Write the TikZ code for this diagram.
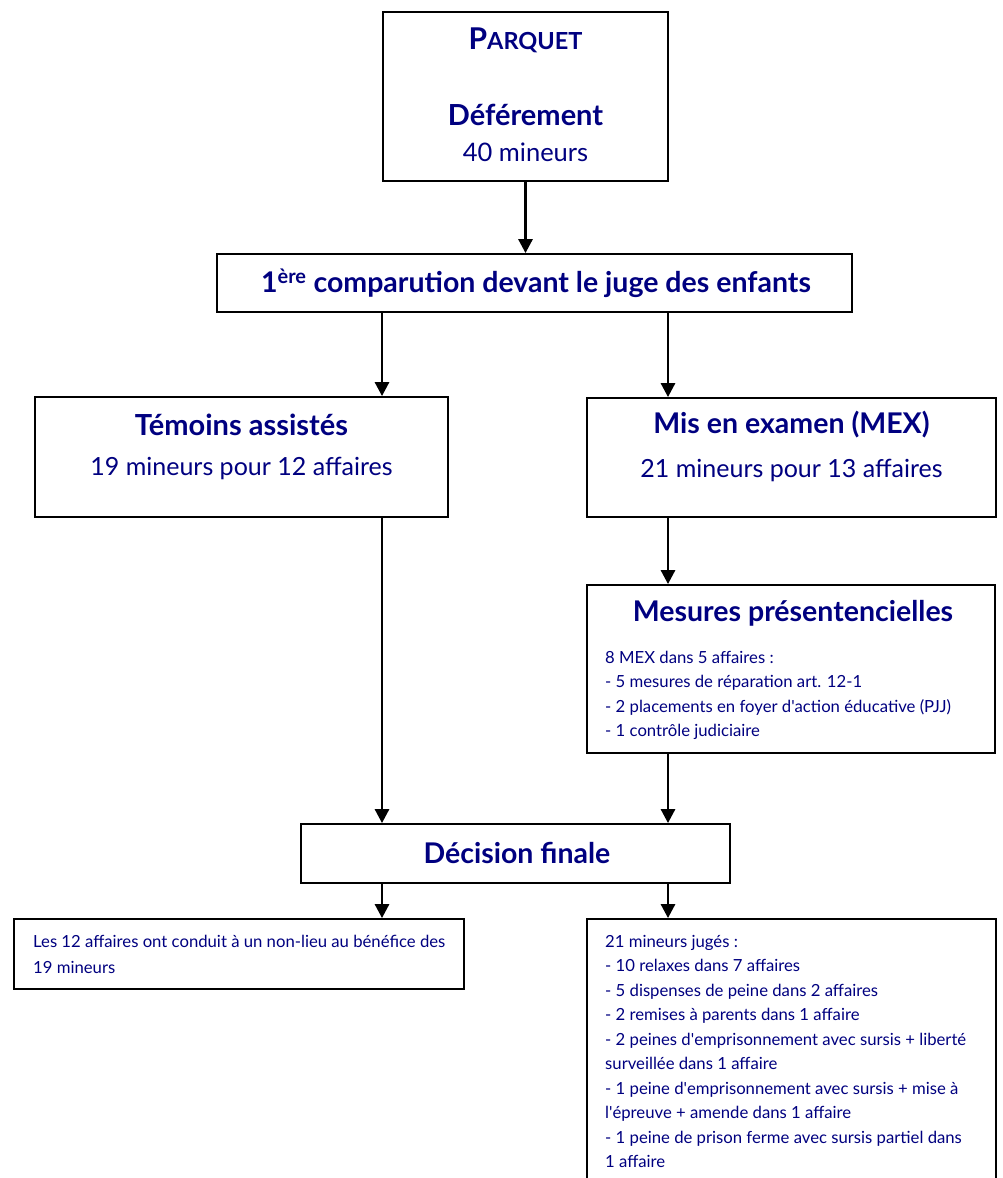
\documentclass[tikz,border=0pt]{standalone}
\usepackage{fontspec}
\setmainfont{Lato}
\usetikzlibrary{arrows.meta}
\definecolor{navy}{RGB}{0,0,128}
\tikzset{
  box/.style={draw=black, line width=1.8pt, fill=white, inner sep=0pt},
  txt/.style={text=navy, inner sep=0pt},
  arr/.style={line width=2.8pt, -{Triangle[width=14pt,length=14pt]}},
}
\newcommand{\apos}{\textquotesingle}
\begin{document}
\begin{tikzpicture}[x=1pt,y=-1pt]
\useasboundingbox (0,0) rectangle (1003,1178);
% boxes
\node[box, minimum width=285pt, minimum height=169pt] (parquet) at (525.5,96.5) {};
\node[box, minimum width=635pt, minimum height=58pt] (comp) at (534.5,283) {};
\node[box, minimum width=413pt, minimum height=120pt] (temoins) at (241.5,457) {};
\node[box, minimum width=409pt, minimum height=119pt] (mex) at (791.5,457.5) {};
\node[box, minimum width=408pt, minimum height=168pt] (mesures) at (791,669) {};
\node[box, minimum width=429pt, minimum height=59pt] (decision) at (515.5,853.5) {};
\node[box, minimum width=450pt, minimum height=70pt] (nonlieu) at (239,954) {};
\node[box, minimum width=409pt, minimum height=290pt] (juges) at (791.5,1064) {};
% texts
\node[txt, font=\fontsize{30}{32}\selectfont\bfseries] (t1) at (525.5,40) {P\fontsize{23.5}{26}\selectfont ARQUET};
\node[txt, font=\fontsize{29}{32}\selectfont\bfseries] (t2) at (525.5,115) {Déférement};
\node[txt, font=\fontsize{25.5}{28}\selectfont] (t3) at (525.5,152) {40 mineurs};
\node[txt, font=\fontsize{28.5}{30}\selectfont\bfseries] (t4) at (536,283) {1\textsuperscript{ère} comparution devant le juge des enfants};
\node[txt, font=\fontsize{29}{30}\selectfont\bfseries] (t5) at (241.5,425) {Témoins assistés};
\node[txt, font=\fontsize{25}{28}\selectfont] (t6) at (241.5,468) {19 mineurs pour 12 affaires};
\node[txt, font=\fontsize{28.5}{30}\selectfont\bfseries] (t7) at (791.5,425) {Mis en examen (MEX)};
\node[txt, font=\fontsize{25}{28}\selectfont] (t8) at (791.5,470) {21 mineurs pour 13 affaires};
\node[txt, font=\fontsize{28.5}{30}\selectfont\bfseries] (t9) at (793,613) {Mesures présentencielles};
\node[txt, font=\fontsize{16.7}{24.3}\selectfont, align=left, anchor=north west] (t10) at (605,651) {8 MEX dans 5 affaires :\\- 5 mesures de réparation art. 12-1\\- 2 placements en foyer d\apos action éducative (PJJ)\\- 1 contrôle judiciaire};
\node[txt, font=\fontsize{28.5}{30}\selectfont\bfseries] (t11) at (517,853) {Décision finale};
\node[txt, font=\fontsize{16.7}{26}\selectfont, align=left, anchor=north west] (t12) at (33,935) {Les 12 affaires ont conduit à un non-lieu au bénéfice des\\19 mineurs};
\node[txt, font=\fontsize{16.7}{24.5}\selectfont, align=left, anchor=north west] (t13) at (605,935) {21 mineurs jugés :\\- 10 relaxes dans 7 affaires\\- 5 dispenses de peine dans 2 affaires\\- 2 remises à parents dans 1 affaire\\- 2 peines d\apos emprisonnement avec sursis + liberté\\surveillée dans 1 affaire\\- 1 peine d\apos emprisonnement avec sursis + mise à\\l\apos épreuve + amende dans 1 affaire\\- 1 peine de prison ferme avec sursis partiel dans\\1 affaire};
% arrows
\draw[arr] (parquet.south) -- (parquet.south |- comp.north);
\draw[arr] (comp.south -| 382,0) -- (382,0 |- temoins.north);
\draw[arr] (comp.south -| 668,0) -- (668,0 |- mex.north);
\draw[arr] (mex.south -| 668,0) -- (668,0 |- mesures.north);
\draw[arr] (temoins.south -| 382,0) -- (382,0 |- decision.north);
\draw[arr] (mesures.south -| 668,0) -- (668,0 |- decision.north);
\draw[arr] (decision.south -| 382,0) -- (382,0 |- nonlieu.north);
\draw[arr] (decision.south -| 668,0) -- (668,0 |- juges.north);
\end{tikzpicture}
\end{document}
